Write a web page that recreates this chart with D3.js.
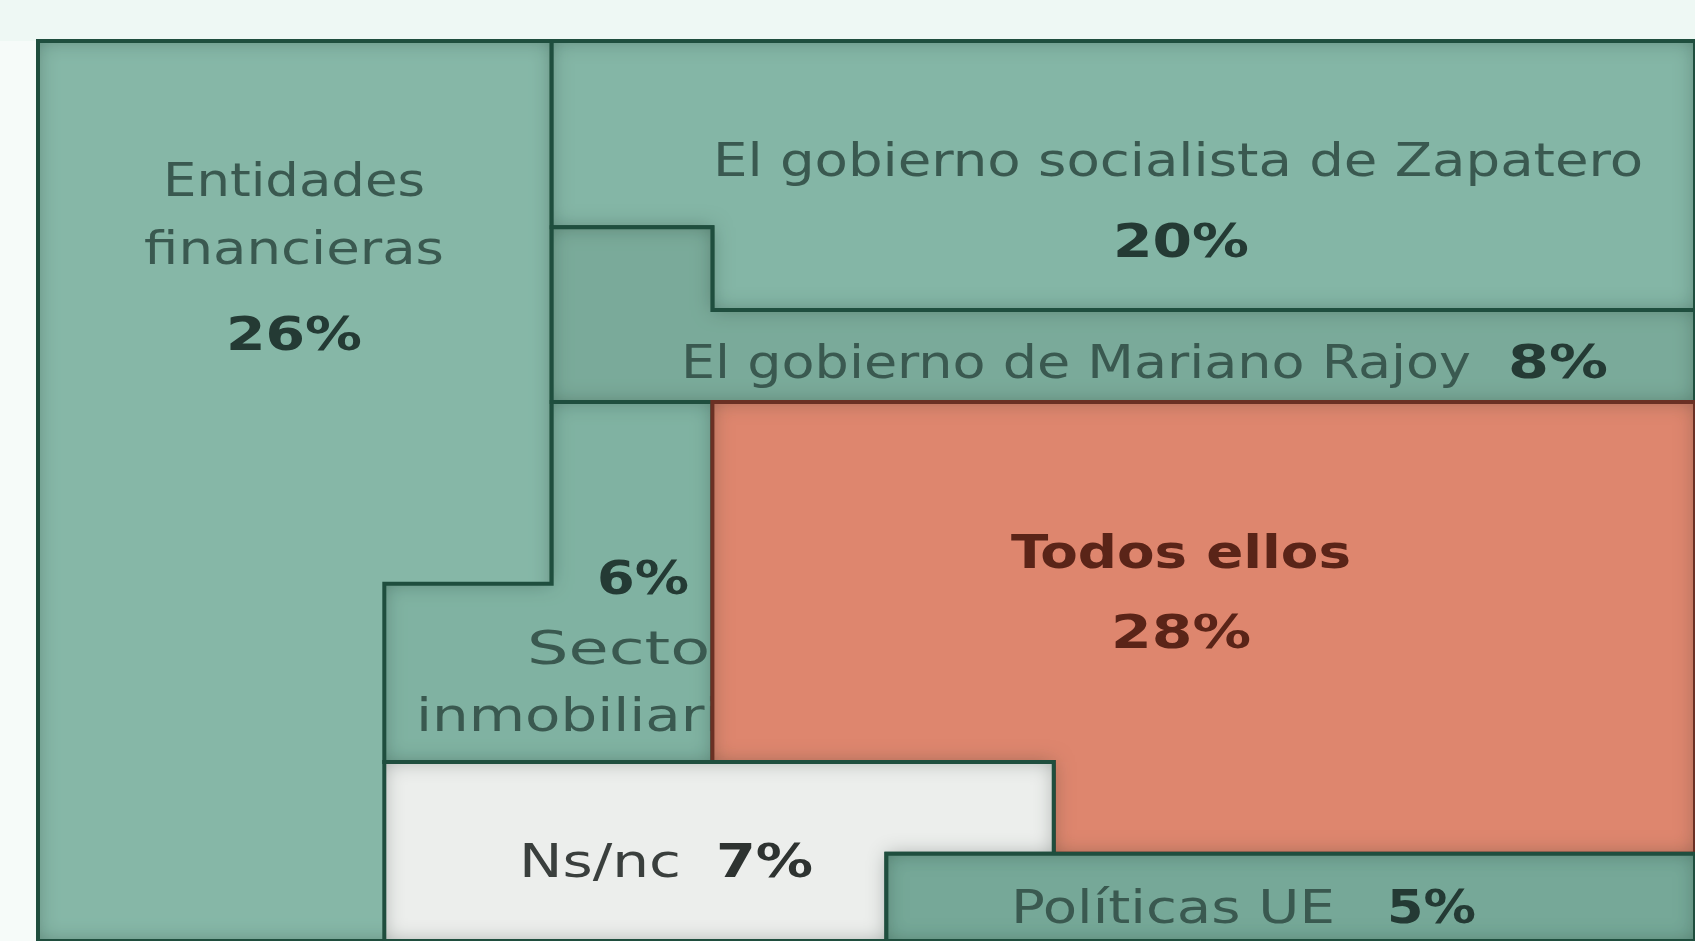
<!DOCTYPE html>
<html>
<head>
<meta charset="utf-8">
<script src="https://cdn.jsdelivr.net/npm/d3@7"></script>
<style>
  body { margin: 0; background: #f6fbf9; overflow: hidden; }
  text { font-family: "Liberation Sans Narrow", "DejaVu Sans Condensed", "Liberation Sans", sans-serif; }
</style>
</head>
<body>
<script>
const w = 1695;
const h = 941;

// data
const categories = ["Entidades financieras", "El gobierno socialista de Zapatero", "El gobierno de Mariano Rajoy",
  "Sector inmobiliario", "Todos ellos", "Ns/nc", "Políticas UE"];
const values = [26, 20, 8, 6, 28, 7, 5];

// layout of each block, in frame units (0-100 both ways)
const shapes = [
  [[0,0],[31,0],[31,100],[0,100]],
  [[31,0],[100,0],[100,29.9],[40.7,29.9],[40.7,20.7],[31,20.7]],
  [[31,20.7],[40.7,20.7],[40.7,29.9],[100,29.9],[100,40.1],[31,40.1]],
  [[31,40.1],[40.7,40.1],[40.7,80.1],[20.9,80.1],[20.9,60.3],[31,60.3]],
  [[40.7,40.1],[100,40.1],[100,90.3],[61.3,90.3],[61.3,80.1],[40.7,80.1]],
  [[20.9,80.1],[61.3,80.1],[61.3,90.3],[51.2,90.3],[51.2,100],[20.9,100]],
  [[51.2,90.3],[100,90.3],[100,100],[51.2,100]]
];
const fills = ["#86b7a7", "#84b6a6", "#7aaa9a", "#80b2a2", "#de866e", "#eceeec", "#76a898"];

const x = d3.scaleLinear().domain([0, 100]).range([38, w]);
const y = d3.scaleLinear().domain([0, 100]).range([41, h]);

const svg = d3.select("body").append("svg")
  .attr("width", w)
  .attr("height", h);

svg.append("rect").attr("width", w).attr("height", 41).attr("fill", "#eef8f4");

const defs = svg.append("defs");
const f = defs.append("filter").attr("id", "inner")
  .attr("filterUnits", "userSpaceOnUse")
  .attr("x", -100).attr("y", -100).attr("width", w + 200).attr("height", h + 200);
f.append("feFlood").attr("flood-color", "#1a4436").attr("flood-opacity", 0.6).attr("result", "c");
f.append("feComposite").attr("in", "c").attr("in2", "SourceAlpha").attr("operator", "out").attr("result", "o");
f.append("feGaussianBlur").attr("in", "o").attr("stdDeviation", 10).attr("result", "b");
f.append("feComposite").attr("in", "b").attr("in2", "SourceAlpha").attr("operator", "in").attr("result", "s");
const m = f.append("feMerge");
m.append("feMergeNode").attr("in", "SourceGraphic");
m.append("feMergeNode").attr("in", "s");

const line = d3.line().x(d => x(d[0])).y(d => y(d[1])).curve(d3.curveLinearClosed);

function block(i) {
  svg.append("path")
    .attr("d", line(shapes[i]))
    .attr("fill", fills[i])
    .attr("filter", "url(#inner)");
  svg.append("path")
    .attr("d", line(shapes[i]))
    .attr("fill", "none")
    .attr("stroke", i == 4 ? "#6a3024" : "#1f4e3e")
    .attr("stroke-width", 4);
}

function label(t, cx, cy, opts) {
  const el = svg.append("text")
    .attr("x", cx).attr("y", cy)
    .attr("text-anchor", opts.anchor || "middle")
    .attr("font-size", opts.size || 46)
    .attr("font-weight", opts.bold ? "bold" : "normal")
    .attr("fill", opts.color || "#3a5950")
    .text(t);
  if (opts.len) el.attr("textLength", opts.len).attr("lengthAdjust", "spacingAndGlyphs");
  return el;
}

const pct = v => v + "%";

// Entidades financieras
block(0);
label("Entidades", 294, 196, {len: 262});
label("financieras", 294, 264, {len: 300});
label(pct(values[0]), 294, 350, {bold: true, len: 136, color: "#243a34"});

// Zapatero
block(1);
label(categories[1], 1178, 176, {len: 930});
label(pct(values[1]), 1181, 257, {bold: true, len: 136, color: "#243a34"});

// Rajoy
block(2);
label(categories[2], 681, 378, {anchor: "start", len: 790});
label(pct(values[2]), 1508, 378, {anchor: "start", bold: true, len: 100, color: "#243a34"});

// Sector inmobiliario (partly hidden under the next block)
block(3);
label(pct(values[3]), 689, 594, {anchor: "end", bold: true, len: 92, color: "#243a34"});
label("Sector", 527, 664, {anchor: "start", len: 210});
label("inmobiliario", 416, 731, {anchor: "start", len: 340});

// Todos ellos
block(4);
label(categories[4], 1181, 568, {bold: true, len: 340, color: "#5a2418"});
label(pct(values[4]), 1181, 648, {bold: true, len: 140, color: "#5a2418"});

// Ns/nc
block(5);
label(categories[5], 519, 877, {anchor: "start", len: 162, color: "#3a3f3d"});
label(pct(values[5]), 716, 877, {anchor: "start", bold: true, len: 97, color: "#2e3331"});

// Políticas UE
block(6);
label("Políticas UE", 1011, 923, {anchor: "start", len: 324});
label(pct(values[6]), 1387, 923, {anchor: "start", bold: true, len: 89, color: "#243a34"});
</script>
</body>
</html>
